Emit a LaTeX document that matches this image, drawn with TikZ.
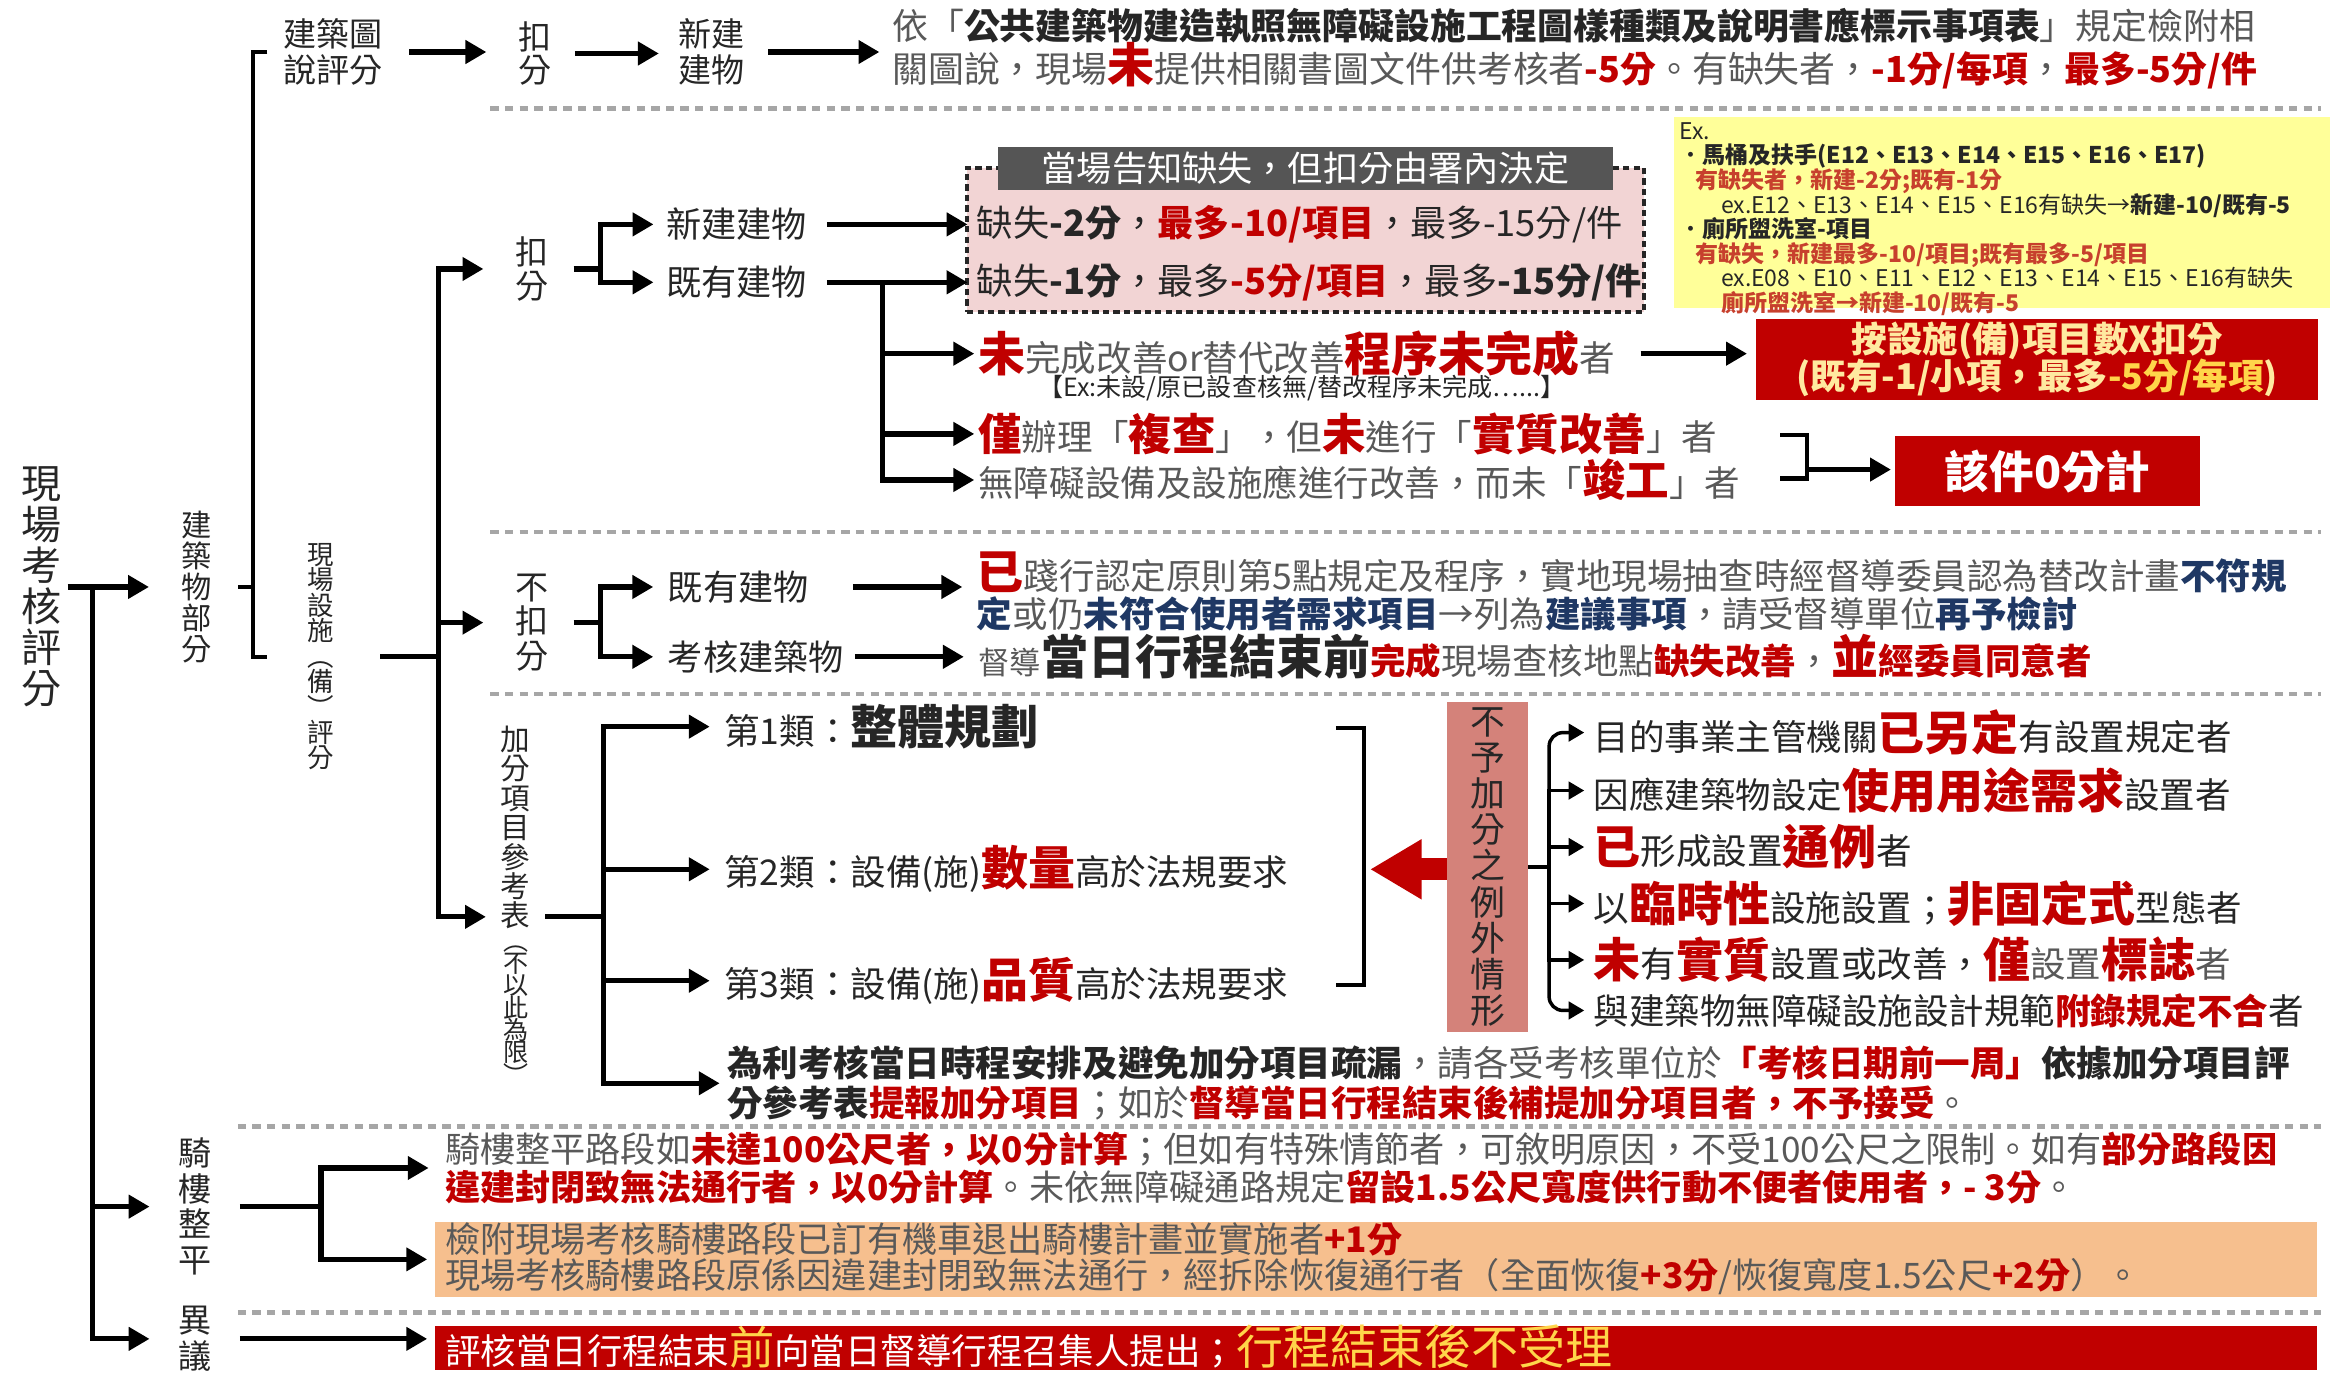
\documentclass[tikz,border=0pt]{standalone}
\usepackage{fontspec}
\setmainfont{Noto Sans CJK TC}
\usetikzlibrary{arrows.meta}
\definecolor{gtxt}{HTML}{595959}
\definecolor{dtxt}{HTML}{262626}
\definecolor{myred}{HTML}{C00000}
\definecolor{navy}{HTML}{1F3864}
\definecolor{pinkbg}{HTML}{F2D4D4}
\definecolor{titlegray}{HTML}{555555}
\definecolor{yelbg}{HTML}{FFFF99}
\definecolor{yred}{HTML}{C7402D}
\definecolor{salmon}{HTML}{D4827A}
\definecolor{orangebg}{HTML}{F6BF8E}
\definecolor{paleyel}{HTML}{FFE9A0}
\definecolor{gold}{HTML}{FFD54A}
\definecolor{sepgray}{HTML}{A6A6A6}
\newcommand{\fsz}[2]{\fontsize{#1}{#2}\selectfont}
\newcommand{\redbig}[1]{{\fsz{13.5}{14}\bfseries\color{myred}#1}}
\newcommand{\redmid}[1]{{\fsz{12.5}{13}\bfseries\color{myred}#1}}
\newcommand{\redtxt}[1]{{\bfseries\color{myred}#1}}
\newcommand{\darkbig}[1]{{\fsz{13.5}{14}\bfseries\color{dtxt}#1}}
\newcommand{\darktxt}[1]{{\bfseries\color{dtxt}#1}}
\newcommand{\navytxt}[1]{{\bfseries\color{navy}#1}}
\lineskiplimit=-100pt
\tikzset{
  >={Triangle[length=6pt,width=6.5pt]},
}

\begin{document}
\begin{tikzpicture}[
  x=0.015cm, y=-0.015cm,
  ln/.style={line width=1.5pt},
  arr/.style={line width=1.5pt, ->},
  sarr/.style={line width=1pt, -{Triangle[length=4.5pt,width=5pt]}, shorten >=2.5pt},
  brk/.style={line width=1.2pt},
  sepline/.style={sepgray, line width=1.4pt, dash pattern=on 2.4pt off 1.8pt},
  lbl/.style={inner sep=0pt, text=dtxt, font=\fsz{10.1}{10.5}},
  vlbl/.style={inner sep=0pt, text=dtxt, align=center},
  txt/.style={inner sep=0pt, anchor=west, text=gtxt, font=\fsz{10.2}{10.5}},
  redbox/.style={fill=myred, inner sep=0pt},
]
\useasboundingbox (0,0) rectangle (1568,925);

\coordinate (rj) at (62,0);
\coordinate (bx) at (170,0);
\coordinate (tk) at (180,0);
\coordinate (fj) at (295,0);
\coordinate (j2) at (404,0);
\coordinate (j3) at (594,0);
\coordinate (j4) at (404,0);
\coordinate (j5) at (406,617);
\coordinate (j7) at (216,0);
\coordinate (jfin) at (327,617);
\coordinate (bq) at (1216,316);
\coordinate (tipb) at (922,585);

\node[vlbl, font=\fsz{11.5}{11.8}] (root) at (28,395) {現\\場\\考\\核\\評\\分};
\node[vlbl, font=\fsz{8.7}{8.9}] (bldg) at (132,395) {建\\築\\物\\部\\分};
\node[vlbl, font=\fsz{7.6}{7.3}] (fac) at (216,442) {現\\場\\設\\施\\︵\\備\\︶\\評\\分};
\node[vlbl, font=\fsz{9.5}{10.2}] (qilou) at (131,812) {騎\\樓\\整\\平};
\node[vlbl, font=\fsz{9.5}{10.2}] (yiyi) at (131,901) {異\\議};

\node[lbl, align=center, font=\fsz{9.5}{10.5}] (tu) at (224,35) {建築圖\\說評分};
\node[vlbl, font=\fsz{9.5}{9.6}] (kou1) at (360,36) {扣\\分};
\node[lbl, align=center, font=\fsz{9.5}{10.5}] (newb1) at (479,35) {新建\\建物};
\node[txt, align=left, font=\fsz{10.3}{12.4}] (tt) at (600,33)
  {依「\darktxt{公共建築物建造執照無障礙設施工程圖樣種類及說明書應標示事項表}」規定檢附相\\關圖說，現場\redbig{未}提供相關書圖文件供考核者\redtxt{-5分}。有缺失者，\redtxt{-1分/每項}，\redtxt{最多-5分/件}};

\draw[sepline] (330,73) -- (1562,73);
\draw[sepline] (330,358) -- (1562,358);
\draw[sepline] (330,467) -- (1562,467);
\draw[sepline] (160,758) -- (1562,758);
\draw[sepline] (160,883) -- (1562,883);

\node[vlbl, font=\fsz{9.5}{9.6}] (kou2) at (358,181) {扣\\分};
\node[lbl, anchor=west] (newb2) at (448,151) {新建建物};
\node[lbl, anchor=west] (oldb2) at (448,190) {既有建物};

\node[draw=dtxt, fill=pinkbg, line width=1.2pt, dash pattern=on 1.8pt off 1.2pt, minimum width=6.83cm, minimum height=1.46cm, inner sep=0pt] (pbox) at (878.5,161.5) {};
\node[fill=titlegray, text=white, minimum width=6.2cm, minimum height=0.44cm, inner sep=0pt, font=\fsz{10.1}{10.5}] (ptitle) at (878.5,113.5) {當場告知缺失，但扣分由署內決定};
\node[txt, text=dtxt, font=\fsz{10.4}{10.5}] (pl1) at (657,151) {缺失\textbf{-2分}，\redtxt{最多-10/項目}，最多-15分/件};
\node[txt, text=dtxt, font=\fsz{10.4}{10.5}] (pl2) at (657,190) {缺失\textbf{-1分}，最多\redtxt{-5分/項目}，最多\textbf{-15分/件}};

\node[fill=yelbg, minimum width=6.62cm, minimum height=1.92cm, inner sep=0pt] (ybox) at (1347.5,143) {};
\node[anchor=north west, inner sep=0pt, align=left, text=dtxt, font=\fsz{6.6}{7.05}] (ytx) at (1130,82)
  {Ex.\\•\textbf{馬桶及扶手(E12、E13、E14、E15、E16、E17)}\\\hspace*{0.7em}{\bfseries\color{yred}有缺失者，新建-2分;既有-1分}\\\hspace*{1.8em}ex.E12、E13、E14、E15、E16有缺失→\textbf{新建-10/既有-5}\\•\textbf{廁所盥洗室-項目}\\\hspace*{0.7em}{\bfseries\color{yred}有缺失，新建最多-10/項目;既有最多-5/項目}\\\hspace*{1.8em}ex.E08、E10、E11、E12、E13、E14、E15、E16有缺失\\\hspace*{1.8em}{\bfseries\color{yred}廁所盥洗室→新建-10/既有-5}};

\node[txt] (wc) at (658,238) {\redbig{未}完成改善or替代改善\redbig{程序未完成}者};
\node[inner sep=0pt, text=dtxt, font=\fsz{7.2}{7.5}] (wcx) at (876,261) {【Ex:未設/原已設查核無/替改程序未完成…...】};
\node[redbox, minimum width=5.67cm, minimum height=0.81cm, align=center, text=paleyel, font=\fsz{10.2}{10.6}\bfseries] (rb1) at (1371,242) {按設施(備)項目數X扣分\\(既有-1/小項，最多{\color{gold}-5分/每項})};
\node[txt] (wq) at (658,292) {\redmid{僅}辦理「\redmid{複查}」，但\redmid{未}進行「\redmid{實質改善}」者};
\node[txt] (wd) at (658,323) {無障礙設備及設施應進行改善，而未「\redmid{竣工}」者};
\node[redbox, minimum width=3.08cm, minimum height=0.7cm, text=white, font=\fsz{12.8}{13}\bfseries] (zero) at (1378,317) {該件0分計};

\node[vlbl, font=\fsz{9.5}{9.8}] (bk) at (358,419) {不\\扣\\分};
\node[lbl, anchor=west] (oldb3) at (449,395) {既有建物};
\node[lbl, anchor=west] (kb) at (449,442) {考核建築物};
\node[txt, align=left, font=\fsz{10.2}{10.7}] (e1) at (657,398)
  {\redbig{已}踐行認定原則第5點規定及程序，實地現場抽查時經督導委員認為替改計畫\navytxt{不符規}\\\navytxt{定}或仍\navytxt{未符合使用者需求項目}→列為\navytxt{建議事項}，請受督導單位\navytxt{再予檢討}};
\node[txt] (e2) at (658,442) {{\fsz{9}{9}督導}\darkbig{當日行程結束前}\redtxt{完成}現場查核地點\redtxt{缺失改善}，\redbig{並}\redtxt{經委員同意者}};

\node[vlbl, anchor=north, font=\fsz{8.5}{8.45}] (jf) at (347,488) {加\\分\\項\\目\\參\\考\\表};
\node[vlbl, anchor=north, font=\fsz{7.2}{6.4}] (jfs) at (347,636) {︵\\不\\以\\此\\為\\限\\︶};
\node[txt, text=dtxt] (c1) at (487,489) {第1類：\darkbig{整體規劃}};
\node[txt, text=dtxt] (c2) at (487,585) {第2類：設備(施)\redbig{數量}高於法規要求};
\node[txt, text=dtxt] (c3) at (487,660) {第3類：設備(施)\redbig{品質}高於法規要求};
\node[txt, align=left, font=\fsz{10.2}{11.5}] (nt) at (489,729)
  {\darktxt{為利考核當日時程安排及避免加分項目疏漏}，請各受考核單位於\redtxt{「考核日期前一周」}\darktxt{依據加分項目評}\\\darktxt{分參考表}\redtxt{提報加分項目}；如於\redtxt{督導當日行程結束後補提加分項目者，不予接受}。};

\node[fill=salmon, minimum width=0.81cm, minimum height=3.33cm, inner sep=0pt, align=center, text=dtxt, font=\fsz{10}{10.35}] (ex) at (1001,583.5) {不\\予\\加\\分\\之\\例\\外\\情\\形};
\node[txt, text=dtxt] (x1) at (1072,493) {目的事業主管機關\redbig{已另定}有設置規定者};
\node[txt, text=dtxt] (x2) at (1072,532) {因應建築物設定\redbig{使用用途需求}設置者};
\node[txt, text=dtxt] (x3) at (1072,570) {\redbig{已}形成設置\redbig{通例}者};
\node[txt, text=dtxt] (x4) at (1072,608) {以\redbig{臨時性}設施設置；\redbig{非固定式}型態者};
\node[txt, text=dtxt] (x5) at (1072,646) {\redbig{未}有\redbig{實質}設置或改善，\redbig{僅}{\color{gtxt}設置}\redbig{標誌}{\color{gtxt}者}};
\node[txt, text=dtxt] (x6) at (1072,680) {與建築物無障礙設施設計規範\redtxt{附錄規定不合}者};

\node[txt, align=left, font=\fsz{10.1}{10.7}] (q1) at (299,786)
  {騎樓整平路段如\redtxt{未達100公尺者，以0分計算}；但如有特殊情節者，可敘明原因，不受100公尺之限制。如有\redtxt{部分路段因}\\\redtxt{違建封閉致無法通行者，以0分計算}。未依無障礙通路規定\redtxt{留設1.5公尺寬度供行動不便者使用者，- 3分}。};
\node[fill=orangebg, minimum width=19cm, minimum height=0.76cm, inner sep=0pt] (qbox) at (926,847.5) {};
\node[txt, align=left, font=\fsz{10.1}{10.4}] (q2) at (299,847)
  {檢附現場考核騎樓路段已訂有機車退出騎樓計畫並實施者\redtxt{+1分}\\現場考核騎樓路段原係因違建封閉致無法通行，經拆除恢復通行者（全面恢復\redtxt{+3分}/恢復寬度1.5公尺\redtxt{+2分}）。};
\node[redbox, minimum width=19cm, minimum height=0.45cm] (rbox) at (926,907) {};
\node[txt, text=white] (rt) at (299,906) {評核當日行程結束{\fsz{13}{13}\color{gold}前}向當日督導行程召集人提出；{\fsz{13.5}{14}\color{gold}行程結束後不受理}};

\draw[arr, shorten <=1.5pt, shorten >=9pt] (root.east) -- (root.east -| bldg.west);
\draw[arr, shorten >=8pt] (root.east -| rj) |- (qilou.west);
\draw[arr, shorten >=8pt] (root.east -| rj) |- (yiyi.west);
\draw[brk] (tu.west -| tk) -- (tu.west -| bx) -- (fac.west -| bx) -- (fac.west -| tk);
\draw[brk, shorten <=7.5pt] (bldg.east) -- (bldg.east -| bx);

\draw[arr, shorten <=7.5pt, shorten >=9pt] (tu.east) -- (tu.east -| kou1.west);
\draw[arr, shorten <=6.5pt, shorten >=5.5pt] (kou1.east) -- (kou1.east -| newb1.west);
\draw[arr, shorten <=6.5pt, shorten >=3.5pt] (newb1.east) -- (newb1.east -| tt.west);

\draw[ln, shorten <=13pt] (fac.east) -- (fac.east -| fj);
\draw[arr, shorten >=9pt] (fac.east -| fj) |- (kou2.west);
\draw[arr, shorten >=9pt] (fac.east -| fj) |- (bk.west);
\draw[arr] (fac.east -| fj) |- (jfin);

\draw[ln, shorten <=7pt] (kou2.east) -- (kou2.east -| j2);
\draw[arr, shorten >=3.5pt] (kou2.east -| j2) |- (newb2.west);
\draw[arr, shorten >=3.5pt] (kou2.east -| j2) |- (oldb2.west);
\draw[arr, shorten <=5.5pt, shorten >=2.5pt] (newb2.east) -- (newb2.east -| pl1.west);
\draw[arr, shorten <=5.5pt, shorten >=2.5pt] (oldb2.east) -- (oldb2.east -| pl2.west);
\draw[arr, shorten >=1pt] (oldb2.east -| j3) |- (wc.west);
\draw[arr, shorten >=1pt] (oldb2.east -| j3) |- (wq.west);
\draw[arr, shorten >=1pt] (oldb2.east -| j3) |- (wd.west);
\draw[arr, shorten <=7pt, shorten >=2.5pt] (wc.east) -- (wc.east -| rb1.west);
\draw[brk] (1198,293) -| (bq |- 0,322) -- (1198,322);
\draw[arr, shorten >=1pt] (bq) -- (bq -| zero.west);

\draw[ln, shorten <=7pt] (bk.east) -- (bk.east -| j4);
\draw[arr, shorten >=4pt] (bk.east -| j4) |- (oldb3.west);
\draw[arr, shorten >=4pt] (bk.east -| j4) |- (kb.west);
\draw[arr, shorten <=12.5pt, shorten >=4pt] (oldb3.east) -- (oldb3.east -| e1.west);
\draw[arr, shorten <=3pt, shorten >=4pt] (kb.east) -- (kb.east -| e2.west);

\draw[ln, shorten <=4pt] (jf.east |- j5) -- (j5);
\draw[arr, shorten >=4pt] (j5) |- (c1.west);
\draw[arr, shorten >=4pt] (j5) |- (c2.west);
\draw[arr, shorten >=4pt] (j5) |- (c3.west);
\draw[arr, shorten >=2pt] (j5) |- (nt.west);
\draw[brk] (899,490) -| (918,663) -- (899,663);
\draw[myred, line width=0.22cm, -{Triangle[length=0.52cm,width=0.57cm]}] (ex.west |- tipb) -- (tipb);

\path (ex.east) ++(14,0) coordinate (j6);
\draw[line width=1pt] (ex.east) -- (j6);
\draw[sarr, rounded corners=4pt] (j6) |- (x1.west);
\draw[sarr] (j6) |- (x2.west);
\draw[sarr] (j6) |- (x3.west);
\draw[sarr] (j6) |- (x4.west);
\draw[sarr] (j6) |- (x5.west);
\draw[sarr, rounded corners=4pt] (j6) |- (x6.west);

\draw[ln, shorten <=8pt] (qilou.east) -- (qilou.east -| j7);
\draw[arr, shorten >=4.5pt] (qilou.east -| j7) |- (q1.west);
\draw[arr, shorten >=2pt] (qilou.east -| j7) |- (qbox.west);
\draw[arr, shorten <=8pt, shorten >=2pt] (yiyi.east) -- (yiyi.east -| rbox.west);

\end{tikzpicture}
\end{document}
